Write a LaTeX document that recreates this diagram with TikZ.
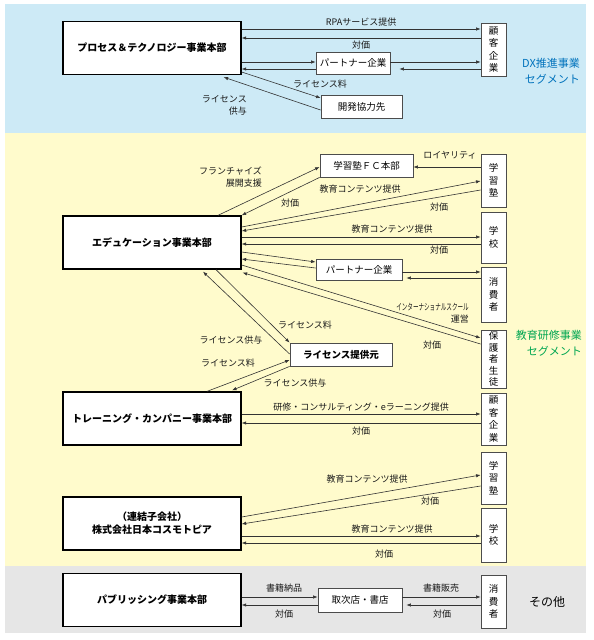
\documentclass[tikz,border=0pt]{standalone}
\usepackage{fontspec}
\setmainfont{Noto Sans CJK JP}
\usetikzlibrary{arrows.meta,calc}
\definecolor{bandeBleu}{RGB}{205,234,246}
\definecolor{bandeJaune}{RGB}{255,251,204}
\definecolor{bandeGris}{RGB}{230,230,230}
\definecolor{bleuDX}{RGB}{0,114,188}
\definecolor{vertEdu}{RGB}{0,166,81}

\begin{document}
\begin{tikzpicture}[x=1pt, y=-1pt, >={Latex[length=4.5pt,width=3.4pt]},
    honbu/.style={draw, line width=1.3pt, fill=white, minimum width=178pt, minimum height=53pt, inner sep=0pt, align=center, font=\fontsize{10}{13}\selectfont\bfseries},
    aite/.style={draw=black!70, line width=0.8pt, fill=white, inner sep=0pt, minimum height=23pt, font=\fontsize{9.5}{11}\selectfont},
    tate/.style={aite, minimum width=25pt, align=center, font=\fontsize{9.5}{12.5}\selectfont},
    lbl/.style={inner sep=0pt, text=black!90, font=\fontsize{9}{12}\selectfont},
    ya/.style={->, line width=0.6pt, draw=black!80},
    seg/.style={inner sep=0pt, align=right, font=\fontsize{11}{16}\selectfont}]
                \useasboundingbox (0,0) rectangle (594,640);

                % bandes de fond
                \fill[bandeBleu] (5,4) rectangle (586,133);
                \fill[bandeJaune] (5,133) rectangle (586,566);
                \fill[bandeGris] (5,566) rectangle (586,633);

                % segment DX
                \node[honbu] (pt) at (152,48) {プロセス＆テクノロジー事業本部};
                \node[tate, minimum height=53pt] (kokyakuA) at (493.5,49.5) {顧\\客\\企\\業};
                \node[aite, minimum width=74pt, minimum height=22pt] (partnerA) at (353,63) {パートナー企業};
                \node[aite, minimum width=81pt] (kaihatsu) at (361.5,106.5) {開発協力先};

                \draw[ya] (pt.east |- 0,29) -- (kokyakuA.west |- 0,29) node[lbl, midway, above=2pt] (l-rpa) {RPAサービス提供};
                \draw[ya] (kokyakuA.west |- 0,38) -- (pt.east |- 0,38) node[lbl, midway, below=3pt] (l-taikaA) {対価};
                \draw[ya] (pt.east |- 0,62) -- (partnerA.west |- 0,62);
                \draw[ya] (partnerA.west |- 0,69) -- (pt.east |- 0,69);
                \draw[ya] (partnerA.east |- 0,62) -- (kokyakuA.west |- 0,62);
                \draw[ya, shorten >=9pt] (kokyakuA.west |- 0,69) -- (partnerA.east |- 0,69);
                \draw[ya] (pt.east |- 0,72) -- (kaihatsu.west |- 0,98);
                \draw[ya] (kaihatsu.west |- 0,110) -- ($(pt.south east)+(-18,2)$);
                \node[lbl] (l-ryoA) at (320,84) {ライセンス料};
                \node[lbl, anchor=east, align=right] (l-kyoyoA) at (247,105) {ライセンス\\供与};
                \node[seg, text=bleuDX, anchor=east] (dx) at (580,71) {DX推進事業\\セグメント};

                % segment education
                \node[honbu] (edu) at (152,242.5) {エデュケーション事業本部};
                \node[aite, minimum width=93pt] (fc) at (366.5,165.5) {学習塾ＦＣ本部};
                \node[tate, minimum height=53pt] (jukuA) at (493.5,180.5) {学\\習\\塾};
                \node[tate, minimum height=51pt] (gakkoA) at (493.5,237.5) {学\\校};
                \node[aite, minimum width=86pt, minimum height=21pt] (partnerB) at (359,269.5) {パートナー企業};
                \node[tate, minimum height=55pt] (shohiA) at (493.5,294.5) {消\\費\\者};
                \node[tate, minimum height=58pt, font=\fontsize{9.5}{11.5}\selectfont] (hogosha) at (493.5,359) {保\\護\\者\\生\\徒};
                \node[aite, minimum width=102pt, font=\fontsize{9.5}{11}\selectfont\bfseries] (license) at (341,354.5) {ライセンス提供元};

                \draw[ya] (jukuA.west |- 0,167) -- (fc.east |- 0,167);
                \draw[ya] ($(edu.north)+(66,0)$) -- (fc.west |- 0,167);
                \draw[ya] (fc.south west) -- (edu.north east);
                \draw[ya] (edu.east |- 0,227) -- (jukuA.west |- 0,181);
                \draw[ya] (jukuA.west |- 0,190) -- (edu.east |- 0,231);
                \draw[ya] (edu.east |- 0,237) -- (gakkoA.west |- 0,237);
                \draw[ya] (gakkoA.west |- 0,244) -- (edu.east |- 0,244);
                \draw[ya] (edu.east |- 0,252) -- (partnerB.west |- 0,262);
                \draw[ya] (partnerB.west |- 0,268) -- (edu.east |- 0,259);
                \draw[ya] (partnerB.east |- 0,272) -- (shohiA.west |- 0,272);
                \draw[ya, shorten >=4pt] (shohiA.west |- 0,278) -- (partnerB.east |- 0,278);
                \draw[ya] (edu.east |- 0,265) -- (hogosha.west |- 0,338);
                \draw[ya] (hogosha.west |- 0,344) -- ($(edu.south east)+(1,3)$);
                \draw[ya] (license.west |- 0,354) -- ($(edu.south)+(51,2)$);
                \draw[ya] ($(edu.south)+(64,0)$) -- (license.north west);
                \node[lbl] (l-royalty) at (450,155) {ロイヤリティ};
                \node[lbl, anchor=east, align=right] (l-fc) at (262,177) {フランチャイズ\\展開支援};
                \node[lbl] (l-taikaB) at (290,203) {対価};
                \node[lbl] (l-kyoikuA) at (360,189) {教育コンテンツ提供};
                \node[lbl] (l-taikaC) at (439,207) {対価};
                \node[lbl] (l-kyoikuB) at (392,229) {教育コンテンツ提供};
                \node[lbl] (l-taikaD) at (439,250) {対価};
                \node[lbl, anchor=east, align=right] (l-inter) at (469,313) {\scalebox{0.62}[1]{インターナショナルスクール}\\運営};
                \node[lbl] (l-taikaE) at (432,345) {対価};
                \node[lbl] (l-ryoB) at (305,325) {ライセンス料};
                \node[lbl] (l-kyoyoB) at (231,340) {ライセンス供与};
                \node[seg, text=vertEdu, anchor=east] (kyoiku) at (582,343) {教育研修事業\\セグメント};

                % trainings
                \node[honbu] (training) at (152,418.5) {トレーニング・カンパニー事業本部};
                \node[tate, minimum height=52pt] (kokyakuB) at (493.5,419) {顧\\客\\企\\業};

                \draw[ya] ($(training.north)+(55,0)$) -- (license.west |- 0,360);
                \draw[ya] (license.south west) -- ($(training.north)+(80,-1)$);
                \draw[ya] (training.east |- 0,414) -- (kokyakuB.west |- 0,414) node[lbl, midway, above=2pt] (l-kenshu) {研修・コンサルティング・eラーニング提供};
                \draw[ya] (kokyakuB.west |- 0,423) -- (training.east |- 0,423) node[lbl, midway, below=4pt] (l-taikaF) {対価};
                \node[lbl] (l-ryoC) at (228,363) {ライセンス料};
                \node[lbl] (l-kyoyoC) at (295,383) {ライセンス供与};

                % Nihon Cosmotopia
                \node[honbu] (cosmo) at (152,523.5) {（連結子会社）\\株式会社日本コスモトピア};
                \node[tate, minimum height=52pt] (jukuB) at (493.5,478) {学\\習\\塾};
                \node[tate, minimum height=54pt] (gakkoB) at (493.5,535) {学\\校};

                \draw[ya] (cosmo.east |- 0,517) -- (jukuB.west |- 0,475);
                \draw[ya] (jukuB.west |- 0,486) -- (cosmo.east |- 0,524);
                \draw[ya] (cosmo.east |- 0,536) -- (gakkoB.west |- 0,536);
                \draw[ya] (gakkoB.west |- 0,543) -- (cosmo.east |- 0,543);
                \node[lbl] (l-kyoikuC) at (367,479) {教育コンテンツ提供};
                \node[lbl] (l-taikaG) at (430,501) {対価};
                \node[lbl] (l-kyoikuD) at (392,529) {教育コンテンツ提供};
                \node[lbl] (l-taikaH) at (384,554) {対価};

                % autres
                \node[honbu] (pub) at (152,600) {パブリッシング事業本部};
                \node[aite, minimum width=84pt, minimum height=24pt] (toritsugi) at (360,600) {取次店・書店};
                \node[tate, minimum height=53pt] (shohiB) at (493.5,601.5) {消\\費\\者};

                \draw[ya] (pub.east |- 0,597) -- (toritsugi.west |- 0,597);
                \draw[ya] (toritsugi.west |- 0,605) -- (pub.east |- 0,605);
                \draw[ya] (toritsugi.east |- 0,597) -- (shohiB.west |- 0,597);
                \draw[ya, shorten >=4pt] (shohiB.west |- 0,605) -- (toritsugi.east |- 0,605);
                \node[lbl] (l-nohin) at (284,588) {書籍納品};
                \node[lbl] (l-taikaI) at (284,614) {対価};
                \node[lbl] (l-hanbai) at (441,588) {書籍販売};
                \node[lbl] (l-taikaJ) at (442,614) {対価};
                \node[font=\fontsize{12}{14}\selectfont] (sonota) at (547,602) {その他};
\end{tikzpicture}
\end{document}
